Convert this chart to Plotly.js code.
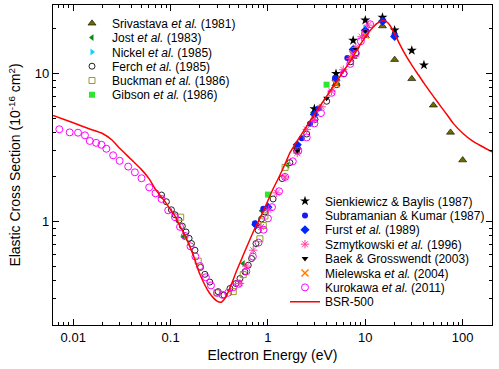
<!DOCTYPE html>
<html>
<head>
<meta charset="utf-8">
<script src="https://cdn.plot.ly/plotly-3.0.1.min.js"></script>
<style>
  body { margin: 0; background: #fff; }
  #chart { width: 499px; height: 369px; }
</style>
</head>
<body>
<div id="chart"></div>
<script>
// energies in eV, cross sections in 1e-16 cm^2
const srivastavaE = [2, 3, 5, 7.5, 10, 15, 20, 30, 50, 75, 100];
const srivastavaY = [3.2, 5.4, 8.5, 13.0, 18.0, 20.9, 12.4, 9.2, 6.1, 4.0, 2.6];

const jostE = [0.135, 0.557, 0.861, 1.6, 2.9, 5];
const jostY = [0.79, 0.52, 1.18, 2.4, 5.45, 8.7];

const nickelE = [3, 5, 7.5, 9.9];
const nickelY = [5.4, 8.9, 14.0, 20.3];

const ferchE = [0.0807, 0.0906, 0.102, 0.111, 0.122, 0.132, 0.144, 0.155, 0.164, 0.178, 0.203, 0.225,
  0.253, 0.308, 0.353, 0.407, 0.469, 0.516, 0.58, 0.628, 0.679, 0.753, 0.795, 0.861, 0.931, 1.13,
  1.4, 1.68, 1.97, 2.5, 3.04, 4.01, 5.08, 6.04, 7.08, 8.02];
const ferchY = [1.51, 1.36, 1.20, 1.11, 1.02, 0.93, 0.85, 0.77, 0.71, 0.64, 0.49, 0.44,
  0.39, 0.336, 0.318, 0.353, 0.381, 0.412, 0.457, 0.507, 0.562, 0.71, 0.871, 1.04, 1.16, 1.42,
  1.95, 2.5, 3.0, 3.9, 4.89, 6.49, 8.4, 9.96, 12.0, 13.8];

const buckmanE = [0.127, 0.192, 0.3, 0.44, 0.557, 0.827, 0.895, 0.931, 1.5];
const buckmanY = [1.07, 0.54, 0.33, 0.336, 0.438, 0.765, 0.94, 1.09, 2.32];

const gibsonE = [1.0, 4.0];
const gibsonY = [1.52, 8.4];

const sienkiewiczE = [3, 5, 7.5, 10, 15, 20, 30, 40];
const sienkiewiczY = [5.77, 9.96, 16.7, 22.9, 23.9, 19.6, 14.3, 11.4];

const subramanianE = [0.735, 0.895, 2.22, 2.7, 3.29, 4.88, 6.53, 7.41, 15.3, 20];
const subramanianY = [0.975, 1.22, 3.65, 4.57, 5.8, 9.31, 12.7, 14.1, 22.7, 18.2];

const furstE = [0.75, 1.0, 2, 3, 5, 7.5, 10, 15, 20];
const furstY = [0.95, 1.25, 3.3, 5.3, 9.0, 14.5, 19.5, 22.5, 17.8];

const szmytkowskiE = [0.516, 0.6, 0.706, 0.85, 1.01, 1.23, 1.5, 2.0, 2.5, 3.0, 3.56, 4.5, 5.94, 7.0, 8.0, 9.14, 10.7];
const szmytkowskiY = [0.382, 0.5, 0.64, 0.92, 1.20, 1.56, 2.0, 2.9, 4.19, 4.9, 5.95, 7.6, 10.6, 12.6, 15.0, 17.7, 21.2];

const baekE = [2, 4, 8, 10];
const baekY = [3.0, 6.8, 14.5, 19.5];

const mielewskaE = [5, 7.5, 10];
const mielewskaY = [8.5, 13.5, 18.2];

const kurokawaE = [0.0072, 0.0092, 0.0112, 0.0132, 0.0148, 0.0172, 0.0195, 0.0219, 0.0257, 0.030, 0.0367,
  0.043, 0.0503, 0.0603, 0.07, 0.0807, 0.0945, 0.111, 0.125, 0.14, 0.16, 0.18, 0.2, 0.23, 0.26, 0.3,
  0.34, 0.39, 0.44, 0.5, 0.6, 0.7, 0.8, 0.9, 1.0, 1.1, 1.3, 1.5, 1.8, 2.05, 2.5, 3.0, 3.5, 4.5, 6.0,
  7.0, 8.0, 9.0, 10, 11.2];
const kurokawaY = [4.2, 4.0, 3.98, 3.82, 3.5, 3.4, 3.3, 3.1, 2.8, 2.57, 2.35,
  2.15, 1.96, 1.70, 1.55, 1.42, 1.19, 1.07, 0.92, 0.80, 0.68, 0.58, 0.5, 0.42, 0.37, 0.33,
  0.32, 0.33, 0.36, 0.38, 0.46, 0.58, 0.72, 0.88, 1.05, 1.25, 1.6, 2.0, 2.55, 3.0, 3.7, 4.6, 5.4, 7.4, 10.0,
  11.6, 13.6, 16.5, 18.8, 21.5];

const bsrE = [0.0062, 0.01, 0.015, 0.02, 0.025, 0.03, 0.04, 0.05, 0.06, 0.07, 0.08, 0.09, 0.1, 0.11,
  0.125, 0.14, 0.17, 0.2, 0.25, 0.3, 0.33, 0.37, 0.42, 0.48, 0.55, 0.7, 0.9, 1.1, 1.3, 1.5, 1.7, 2,
  2.5, 3, 4, 5, 6, 7, 8, 9, 10, 11, 12, 13, 14, 15, 16, 17, 18, 20, 22, 25, 30, 35, 40, 50, 60, 70,
  80, 100, 130, 160, 200];
const bsrY = [5.2, 4.64, 4.2, 3.93, 3.55, 3.12, 2.6, 2.25, 1.95, 1.65, 1.47, 1.33, 1.2, 1.1,
  0.93, 0.81, 0.6, 0.44, 0.33, 0.29, 0.285, 0.31, 0.375, 0.47, 0.58, 0.84, 1.18, 1.6, 2.0, 2.45, 2.95, 3.5,
  4.4, 5.3, 7.0, 8.7, 10.4, 12.1, 14.0, 15.9, 17.6, 19.2, 20.5, 21.6, 22.3, 22.7, 22.6, 22.0, 21.0, 18.5, 16.3, 13.9, 11.4, 9.8, 8.6, 7.0, 5.95, 5.2,
  4.6, 3.95, 3.45, 3.2, 2.95];

const FONT = 'Liberation Sans, Arial, Helvetica, sans-serif';

function pts(name, x, y, symbol, color, size, legend, lineColor, lineWidth) {
  return {
    x: x, y: y, name: name, type: 'scatter', mode: 'markers', legend: legend,
    marker: { symbol: symbol, color: color, size: size,
      line: { color: lineColor || color, width: lineWidth === undefined ? 1 : lineWidth } }
  };
}

const traces = [
  pts('Srivastava <i>et al.</i> (1981)', srivastavaE, srivastavaY, 'triangle-up', '#6e6a00', 7, 'legend', '#000', 0.6),
  pts('Jost <i>et al.</i> (1983)', jostE, jostY, 'triangle-left', '#0a8a0a', 6, 'legend2', '#0a8a0a', 0),
  pts('Nickel <i>et al.</i> (1985)', nickelE, nickelY, 'triangle-right', '#00d8ff', 6, 'legend3', '#00d8ff', 0),
  pts('Ferch <i>et al.</i> (1985)', ferchE, ferchY, 'circle-open', '#222', 6, 'legend4'),
  pts('Buckman <i>et al.</i> (1986)', buckmanE, buckmanY, 'square-open', '#9a9a2a', 6, 'legend5'),
  pts('Gibson <i>et al.</i> (1986)', gibsonE, gibsonY, 'square', '#2ee62e', 6, 'legend6', '#2ee62e', 0),
  pts('Sienkiewicz &amp; Baylis (1987)', sienkiewiczE, sienkiewiczY, 'star', '#000', 7.5, 'legend7', '#000', 0),
  pts('Subramanian &amp; Kumar (1987)', subramanianE, subramanianY, 'circle', '#1a1aee', 6, 'legend8', '#1a1aee', 0),
  pts('Furst <i>et al.</i> (1989)', furstE, furstY, 'diamond', '#0026ff', 7, 'legend9', '#0026ff', 0),
  pts('Szmytkowski <i>et al.</i> (1996)', szmytkowskiE, szmytkowskiY, 'asterisk-open', '#ff3fa0', 7, 'legend10'),
  pts('Baek &amp; Grosswendt (2003)', baekE, baekY, 'triangle-down', '#000', 6, 'legend11', '#000', 0),
  pts('Mielewska <i>et al.</i> (2004)', mielewskaE, mielewskaY, 'x-thin-open', '#ff8000', 7, 'legend12', '#ff8000', 1.5),
  pts('Kurokawa <i>et al.</i> (2011)', kurokawaE, kurokawaY, 'circle-open', '#ff00ff', 7, 'legend13'),
  { x: bsrE, y: bsrY, name: 'BSR-500', type: 'scatter', mode: 'lines', legend: 'legend14',
    line: { color: '#ff0000', width: 1.5, shape: 'spline', smoothing: 0.6 } }
];

// one legend per entry so the row spacing can match the original
const plotL = 53, plotW = 439, plotT = 5, plotH = 320;
const layout = {
  width: 499, height: 369,
  margin: { l: plotL, r: 499 - plotL - plotW, t: plotT, b: 369 - plotT - plotH },
  paper_bgcolor: '#fff', plot_bgcolor: '#fff',
  font: { family: FONT, size: 13, color: '#000' },
  showlegend: true,
  xaxis: {
    type: 'log', range: [Math.log10(0.0062), Math.log10(200)], dtick: 1,
    ticks: 'inside', ticklen: 6, tickwidth: 1, tickcolor: '#000',
    minor: { ticks: 'inside', ticklen: 3, dtick: 'D1', tickcolor: '#000', tickwidth: 1 },
    showline: true, linecolor: '#000', linewidth: 1.2, mirror: 'ticks',
    showgrid: false, zeroline: false,
    tickfont: { size: 13 },
    title: { text: 'Electron Energy (eV)', font: { size: 14 }, standoff: 6 }
  },
  yaxis: {
    type: 'log', range: [Math.log10(0.2), Math.log10(29)], dtick: 1,
    ticks: 'inside', ticklen: 6, tickwidth: 1, tickcolor: '#000',
    minor: { ticks: 'inside', ticklen: 3, dtick: 'D1', tickcolor: '#000', tickwidth: 1 },
    showline: true, linecolor: '#000', linewidth: 1.2, mirror: 'ticks',
    showgrid: false, zeroline: false,
    tickfont: { size: 13 },
    title: { text: 'Elastic Cross Section (10<sup>-16</sup> cm<sup>2</sup>)', font: { size: 14 }, standoff: 10 }
  }
};

function placeLegend(key, px, py) {
  layout[key] = {
    x: (px - plotL) / plotW, y: (plotT + plotH - py) / plotH,
    xanchor: 'left', yanchor: 'middle',
    bgcolor: 'rgba(0,0,0,0)', borderwidth: 0,
    font: { family: FONT, size: 12, color: '#000' }
  };
}
for (let i = 0; i < 6; i++) placeLegend(i === 0 ? 'legend' : 'legend' + (i + 1), 72, 23.3 + i * 14.3);
for (let i = 0; i < 8; i++) placeLegend('legend' + (i + 7), 285, 201 + i * 14.4);

Plotly.newPlot('chart', traces, layout, { displayModeBar: false, responsive: false });
</script>
</body>
</html>
